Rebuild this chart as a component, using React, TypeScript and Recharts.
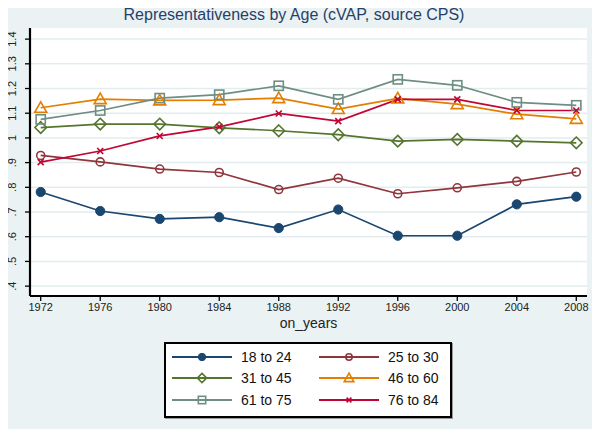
import React from 'react';
import { LineChart, Line, XAxis, YAxis, CartesianGrid } from 'recharts';

// data
const years = [1972, 1976, 1980, 1984, 1988, 1992, 1996, 2000, 2004, 2008];
const age18to24 = [0.781, 0.704, 0.672, 0.679, 0.635, 0.71, 0.604, 0.604, 0.731, 0.762];
const age25to30 = [0.929, 0.903, 0.874, 0.86, 0.791, 0.837, 0.774, 0.798, 0.824, 0.862];
const age31to45 = [1.042, 1.056, 1.056, 1.041, 1.029, 1.013, 0.987, 0.994, 0.987, 0.98];
const age46to60 = [1.122, 1.157, 1.152, 1.153, 1.161, 1.117, 1.16, 1.137, 1.096, 1.077];
const age61to75 = [1.075, 1.111, 1.161, 1.175, 1.211, 1.156, 1.237, 1.213, 1.144, 1.132];
const age76to84 = [0.902, 0.947, 1.008, 1.045, 1.099, 1.068, 1.156, 1.156, 1.111, 1.111];
const yTicks = [0.4, 0.5, 0.6, 0.7, 0.8, 0.9, 1.0, 1.1, 1.2, 1.3, 1.4];

const series = [
  { key: 'a', name: '18 to 24', values: age18to24, color: '#1a476f', marker: 'dot' },
  { key: 'b', name: '25 to 30', values: age25to30, color: '#90353b', marker: 'circle' },
  { key: 'c', name: '31 to 45', values: age31to45, color: '#55752f', marker: 'diamond' },
  { key: 'd', name: '46 to 60', values: age46to60, color: '#e37e00', marker: 'triangle' },
  { key: 'e', name: '61 to 75', values: age61to75, color: '#6e8e84', marker: 'square' },
  { key: 'f', name: '76 to 84', values: age76to84, color: '#c10534', marker: 'x' },
];

const chartData = years.map((y, i) => {
  const row: any = { year: y };
  series.forEach(s => { row[s.key] = s.values[i]; });
  return row;
});

const BG = '#eaf2f3';
const FONT = '"Liberation Sans", Arial, sans-serif';

const Marker = ({ type, cx, cy, color, size = 1 }: any) => {
  if (cx == null || cy == null) return null;
  switch (type) {
    case 'dot':
      return <circle cx={cx} cy={cy} r={4.6 * size} fill={color} stroke={color} />;
    case 'circle':
      return <circle cx={cx} cy={cy} r={4 * size} fill="none" stroke={color} strokeWidth={1.6} />;
    case 'diamond': {
      const d = 5.8 * size;
      return <polygon points={`${cx},${cy - d} ${cx + d},${cy} ${cx},${cy + d} ${cx - d},${cy}`} fill="none" stroke={color} strokeWidth={1.6} />;
    }
    case 'triangle': {
      const d = 6 * size;
      return <polygon points={`${cx},${cy - d} ${cx + d},${cy + d * 0.75} ${cx - d},${cy + d * 0.75}`} fill="none" stroke={color} strokeWidth={1.6} />;
    }
    case 'square': {
      const d = 4.6 * size;
      return <rect x={cx - d} y={cy - d} width={2 * d} height={2 * d} fill="none" stroke={color} strokeWidth={1.6} />;
    }
    case 'x': {
      const d = 3 * size;
      return (
        <g stroke={color} strokeWidth={1.6}>
          <line x1={cx - d} y1={cy - d} x2={cx + d} y2={cy + d} />
          <line x1={cx - d} y1={cy + d} x2={cx + d} y2={cy - d} />
        </g>
      );
    }
    default:
      return null;
  }
};

const fmtY = (v: number) => {
  const s = (Math.round(v * 10) / 10).toString();
  return s.startsWith('0.') ? s.slice(1) : s;
};

const YTick = ({ x, y, payload }: any) => (
  <text x={x - 7} y={y} transform={`rotate(-90 ${x - 7} ${y})`} textAnchor="middle"
    fontSize={11} fill="#222" fontFamily={FONT}>
    {fmtY(payload.value)}
  </text>
);

const App = () => {
  return (
    <div style={{ position: 'relative', width: 600, height: 437, margin: -8, background: BG, overflow: 'hidden', fontFamily: FONT }}>
      <div style={{ position: 'absolute', top: 6, left: 0, width: 588, textAlign: 'center', fontSize: 16, color: '#27406a' }}>
        Representativeness by Age (cVAP, source CPS)
      </div>
      <LineChart width={600} height={437} data={chartData}
        margin={{ top: 28, right: 13, bottom: 111, left: 0 }}>
        <CartesianGrid vertical={false} fill="#ffffff" stroke="#e3edef" strokeWidth={1.5} horizontalValues={yTicks} />
        <XAxis dataKey="year" type="number" domain={[1971.28, 2008.72]} ticks={years}
          height={30} tickSize={5} tickLine={{ stroke: '#000', strokeWidth: 1.3 }}
          axisLine={{ stroke: '#000', strokeWidth: 2.2 }}
          tick={{ fontSize: 11, fill: '#222', fontFamily: FONT }}
          label={{ value: 'on_years', position: 'insideBottom', offset: -2, fontSize: 14, fill: '#222', fontFamily: FONT }} />
        <YAxis type="number" domain={[0.36, 1.445]} ticks={yTicks} width={30} tickSize={5}
          tickLine={{ stroke: '#000', strokeWidth: 1.3 }} axisLine={{ stroke: '#000', strokeWidth: 2.2 }}
          tick={<YTick />} />
        {series.map(s => (
          <Line key={s.key} dataKey={s.key} name={s.name} stroke={s.color} strokeWidth={1.7}
            isAnimationActive={false}
            dot={(p: any) => <Marker key={`${s.key}-${p.index}`} type={s.marker} cx={p.cx} cy={p.cy} color={s.color} />}
            activeDot={false} />
        ))}
      </LineChart>
      {/* legend box */}
      <div style={{ position: 'absolute', left: 164, top: 342, width: 284, height: 70, background: '#fff',
        border: '2px solid #000', boxShadow: '1px 1px 0 #999', display: 'grid',
        gridTemplateColumns: '147px 137px', gridTemplateRows: 'repeat(3, 21.5px)', paddingTop: 2 }}>
        {series.map(s => (
          <div key={s.key} style={{ display: 'flex', alignItems: 'center', paddingLeft: 5, fontSize: 14, color: '#111' }}>
            <svg width={62} height={16} style={{ marginRight: 8 }}>
              <line x1={1} y1={8} x2={61} y2={8} stroke={s.color} strokeWidth={2} />
              <Marker type={s.marker} cx={31} cy={8} color={s.color} size={0.8} />
            </svg>
            {s.name}
          </div>
        ))}
      </div>
      <div style={{ position: 'absolute', left: 0, top: 433, width: 600, height: 4, background: '#555' }} />
    </div>
  );
};

export default App;
